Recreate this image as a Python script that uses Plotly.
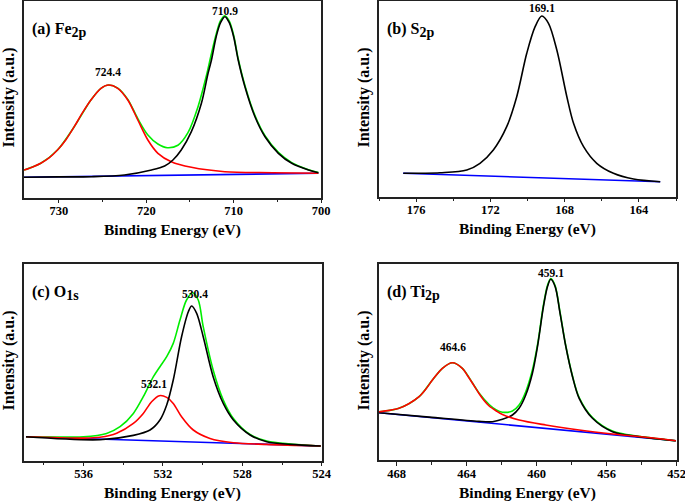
import plotly.graph_objects as go

W, H = 685, 504

# ---------------- Panel (a) Fe 2p ----------------
FE_BASE_X = [734.0, 700.3]
FE_BASE_Y = [20.4, 24.4]
FE_RED_X = [734.0, 733.0, 732.08, 731.1, 730.17, 729.2, 728.25, 727.3, 726.34, 725.19, 724.34,
            723.27, 722.12, 720.97, 719.82, 718.67, 717.14, 714.84, 711.01, 705.5, 700.3]
FE_RED_Y = [27.7, 30.8, 34.4, 40.0, 47.7, 58.0, 71.0, 85.0, 97.7, 109.4, 112.7,
            109.4, 97.7, 77.7, 57.7, 44.4, 36.0, 30.4, 26.0, 25.0, 24.4]
FE_BLACK_X = [734.0, 730.0, 726.3, 722.5, 719.4, 717.9, 716.95, 716.0, 714.84, 713.69, 712.93,
              712.54, 712.0, 711.5, 711.0, 710.5, 710.0, 709.48, 708.71, 707.56, 706.41,
              704.88, 703.35, 701.43, 700.3]
FE_BLACK_Y = [20.4, 20.8, 21.0, 22.7, 27.7, 31.7, 37.7, 47.7, 66.0, 94.4, 124.4,
              137.7, 161.0, 175.0, 181.0, 175.0, 161.0, 137.7, 111.0, 81.0, 61.0,
              44.4, 34.4, 27.7, 25.0]
FE_GREEN_X = [734.0, 732.08, 730.17, 728.25, 726.34, 725.19, 724.34, 723.27, 722.12, 720.97,
              719.82, 718.67, 717.6, 716.38, 715.23, 714.08, 713.12, 712.6, 712.0, 711.5,
              711.0, 710.5, 710.0, 709.48, 708.71, 707.56, 706.41, 704.88, 703.35, 701.43, 700.3]
FE_GREEN_Y = [27.7, 34.4, 47.7, 71.0, 97.7, 109.4, 112.7, 109.6, 98.3, 79.0,
              62.7, 53.7, 50.0, 52.5, 65.0, 91.0, 122.0, 142.0, 163.5, 177.0,
              182.0, 176.5, 162.5, 139.0, 112.3, 82.2, 62.0, 45.3, 35.1, 28.0, 25.2]
FE_PEAKS = [724.4, 710.9]
FE_PEAK_X = [724.4, 711.0]
FE_PEAK_Y = [125.7, 186.7]
FE_TICKS = [730, 720, 710, 700]

# ---------------- Panel (b) S 2p ----------------
S_BASE_X = [176.7, 162.85]
S_BASE_Y = [23.4, 15.0]
S_BLACK_X = [176.69, 174.71, 173.27, 172.56, 171.84, 171.12, 170.58, 170.04, 169.59, 169.23,
             168.87, 168.42, 167.88, 167.52, 166.98, 166.27, 165.37, 164.29, 162.85]
S_BLACK_Y = [23.4, 24.0, 26.7, 33.4, 46.7, 70.0, 100.0, 143.4, 170.0, 180.7,
             173.4, 146.7, 100.0, 73.4, 50.0, 33.4, 23.4, 17.7, 15.0]
S_PEAKS = [169.1]
S_PEAK_X = [169.2]
S_PEAK_Y = [188.4]
S_TICKS = [176, 172, 168, 164]

# ---------------- Panel (c) O 1s ----------------
O_BASE_X = [538.9, 524.05]
O_BASE_Y = [24.0, 14.7]
O_RED_X = [538.9, 536.0, 535.17, 534.33, 533.49, 532.99, 532.57, 532.18, 531.81, 531.48,
           531.06, 530.47, 529.63, 528.45, 526.77, 524.05]
O_RED_Y = [24.0, 22.6, 23.5, 27.5, 37.3, 47.3, 59.0, 65.0, 63.3, 57.3,
           44.0, 30.7, 22.3, 18.0, 16.3, 14.7]
O_BLACK_X = [538.9, 535.17, 533.49, 532.65, 532.15, 531.81, 531.48, 531.06, 530.72, 530.55,
             530.30, 529.97, 529.47, 528.96, 528.45, 527.61, 526.77, 525.60, 524.05]
O_BLACK_Y = [24.0, 21.0, 25.3, 30.7, 40.7, 55.7, 80.7, 124.0, 149.0, 154.7,
             147.3, 124.0, 84.0, 57.3, 40.7, 25.7, 19.0, 16.3, 14.7]
O_GREEN_X = [538.9, 536.01, 534.84, 534.16, 533.49, 532.99, 532.48, 532.15, 531.81, 531.48,
             531.14, 530.81, 530.50, 530.22, 529.97, 529.47, 528.96, 528.45, 527.61, 526.77, 524.05]
O_GREEN_Y = [24.0, 24.0, 27.3, 34.0, 47.3, 64.0, 84.0, 94.0, 104.0, 117.3,
             140.7, 160.7, 168.0, 160.7, 134.0, 90.7, 60.7, 42.3, 26.3, 19.7, 14.7]
O_PEAKS = [532.1, 530.4]
O_PEAK_X = [532.45, 530.4]
O_PEAK_Y = [76.7, 166.7]
O_TICKS = [536, 532, 528, 524]

# ---------------- Panel (d) Ti 2p ----------------
TI_BASE_X = [469.0, 452.05]
TI_BASE_Y = [47.3, 19.3]
TI_RED_X = [469.0, 468.4, 467.86, 467.3, 466.71, 466.3, 465.95, 465.38, 464.81, 464.24, 463.95,
            463.67, 463.29, 463.0, 462.71, 462.3, 461.95, 461.0, 459.48, 457.57, 455.67, 453.76, 452.05]
TI_RED_Y = [48.3, 49.6, 51.7, 56.3, 63.3, 71.5, 80.0, 91.7, 97.3, 91.7, 84.5,
            77.0, 66.5, 59.5, 54.0, 49.0, 45.5, 40.0, 35.0, 30.0, 26.0, 22.7, 19.3]
TI_BLACK_X = [469.0, 466.14, 463.29, 462.52, 461.95, 461.38, 461.0, 460.62, 460.24, 459.95,
              459.61, 459.38, 459.19, 458.94, 458.66, 458.33, 457.95, 457.57, 456.81, 455.67,
              454.14, 452.05]
TI_BLACK_Y = [47.3, 42.9, 38.6, 38.3, 40.7, 45.0, 51.7, 65.0, 86.7, 113.3,
              153.3, 173.3, 180.7, 173.3, 146.7, 113.3, 83.3, 61.7, 41.7, 28.3,
              23.3, 19.3]
TI_GREEN_X = [469.0, 467.86, 466.71, 465.95, 465.38, 464.81, 464.24, 463.67, 463.29, 462.71,
              462.3, 461.95, 461.38, 461.0, 460.62, 460.24, 459.95, 459.61, 459.38, 459.19,
              458.94, 458.66, 458.33, 457.95, 457.57, 456.81, 455.67, 454.14, 452.05]
TI_GREEN_Y = [48.3, 51.7, 63.3, 80.0, 91.7, 97.3, 91.7, 77.2, 67.0, 55.5,
              50.0, 47.8, 49.0, 55.0, 68.3, 90.0, 115.0, 155.0, 174.5, 181.5,
              174.3, 147.5, 114.0, 84.0, 62.5, 42.5, 29.0, 23.6, 19.3]
TI_PEAKS = [464.6, 459.1]
TI_PEAK_X = [464.75, 459.2]
TI_PEAK_Y = [113.3, 186.7]
TI_TICKS = [468, 464, 460, 456, 452]

PANEL_LABELS = ["(a) Fe", "(b) S", "(c) O", "(d) Ti"]
PANEL_SUBS = ["2p", "2p", "1s", "2p"]
X_TITLE = "Binding Energy (eV)"
Y_TITLE = "Intensity (a.u.)"

FONT = "Liberation Serif, Times New Roman, serif"
RED, GREEN, BLUE, BLACK = "#ff0000", "#00ee00", "#0000ff", "#000000"

# panel boxes in pixels: left, right, top, bottom
BOXES = [(24, 321, 1, 197.7), (379, 676, 1, 196.7), (24, 321.7, 264, 460.7), (379, 676.7, 264, 460)]
XRANGES = [[734, 700], [178, 162], [539, 524], [469, 452]]
TICKS = [FE_TICKS, S_TICKS, O_TICKS, TI_TICKS]
MINOR = [5, 2, 2, 2]

fig = go.Figure()


def add_line(i, x, y, color):
    sfx = "" if i == 0 else str(i + 1)
    fig.add_trace(go.Scatter(x=x, y=y, mode="lines", xaxis="x" + sfx, yaxis="y" + sfx,
                             line=dict(color=color, width=1.6, shape="spline", smoothing=0.9),
                             hoverinfo="skip", showlegend=False))


# panel a
add_line(0, FE_BASE_X, FE_BASE_Y, BLUE)
add_line(0, FE_GREEN_X, FE_GREEN_Y, GREEN)
add_line(0, FE_RED_X, FE_RED_Y, RED)
add_line(0, FE_BLACK_X, FE_BLACK_Y, BLACK)
# panel b
add_line(1, S_BASE_X, S_BASE_Y, BLUE)
add_line(1, S_BLACK_X, S_BLACK_Y, BLACK)
# panel c
add_line(2, O_BASE_X, O_BASE_Y, BLUE)
add_line(2, O_GREEN_X, O_GREEN_Y, GREEN)
add_line(2, O_RED_X, O_RED_Y, RED)
add_line(2, O_BLACK_X, O_BLACK_Y, BLACK)
# panel d
add_line(3, TI_BASE_X, TI_BASE_Y, BLUE)
add_line(3, TI_GREEN_X, TI_GREEN_Y, GREEN)
add_line(3, TI_BLACK_X, TI_BLACK_Y, BLACK)
add_line(3, TI_RED_X, TI_RED_Y, RED)

layout = dict(width=W, height=H, margin=dict(l=0, r=0, t=0, b=0),
              paper_bgcolor="white", plot_bgcolor="white", showlegend=False)
annotations = []
for i, (l, r, t, b) in enumerate(BOXES):
    sfx = "" if i == 0 else str(i + 1)
    layout["xaxis" + sfx] = dict(
        domain=[l / W, r / W], range=XRANGES[i], anchor="y" + sfx, automargin=False,
        showline=True, linecolor="#222", linewidth=1.5, mirror=True,
        showgrid=False, zeroline=False,
        tickmode="array", tickvals=TICKS[i], ticks="outside", ticklen=4, tickwidth=1.2,
        tickcolor="#222", ticklabeloverflow="allow", ticklabelstandoff=-3,
        tickfont=dict(family=FONT, size=12.5, color="black", weight="bold"),
        minor=dict(dtick=MINOR[i], ticks="outside", ticklen=3, tickwidth=1.2, tickcolor="#222",
                   showgrid=False),
    )
    layout["yaxis" + sfx] = dict(
        domain=[1 - b / H, 1 - t / H], range=[0, b - t], anchor="x" + sfx, automargin=False,
        showline=True, linecolor="#222", linewidth=1.5, mirror=True,
        showgrid=False, zeroline=False, showticklabels=False, ticks="",
    )
    cx = (l + r) / 2
    annotations.append(dict(xref="paper", yref="paper", x=cx / W, y=1 - (b + 32.5) / H,
                            text="<b>" + X_TITLE + "</b>", showarrow=False,
                            font=dict(family=FONT, size=15.5, color="black"),
                            xanchor="center", yanchor="middle"))
    annotations.append(dict(xref="paper", yref="paper", x=(l - 15.5) / W, y=1 - (t + 97) / H,
                            text="<b>" + Y_TITLE + "</b>", showarrow=False, textangle=-90,
                            font=dict(family=FONT, size=16, color="black"),
                            xanchor="center", yanchor="middle"))
    annotations.append(dict(xref="paper", yref="paper", x=(l + 5.5) / W, y=1 - (t + 17) / H,
                            text="<b>" + PANEL_LABELS[i] + "<sub><span style='font-size:14px'>"
                                 + PANEL_SUBS[i] + "</span></sub></b>",
                            showarrow=False, font=dict(family=FONT, size=16, color="black"),
                            xanchor="left", yanchor="top"))

peak_sets = [(FE_PEAKS, FE_PEAK_X, FE_PEAK_Y), (S_PEAKS, S_PEAK_X, S_PEAK_Y),
             (O_PEAKS, O_PEAK_X, O_PEAK_Y), (TI_PEAKS, TI_PEAK_X, TI_PEAK_Y)]
for i, (labels, xs, ys) in enumerate(peak_sets):
    sfx = "" if i == 0 else str(i + 1)
    for lab, px, py in zip(labels, xs, ys):
        annotations.append(dict(xref="x" + sfx, yref="y" + sfx, x=px, y=py,
                                text="<b>%.1f</b>" % lab, showarrow=False,
                                font=dict(family=FONT, size=11.5, color="black"),
                                xanchor="center", yanchor="middle"))

layout["annotations"] = annotations
fig.update_layout(**layout)
fig.write_html("out.html", config={"displayModeBar": False},
               post_script="document.body.style.margin='0';document.body.style.overflow='hidden';")
